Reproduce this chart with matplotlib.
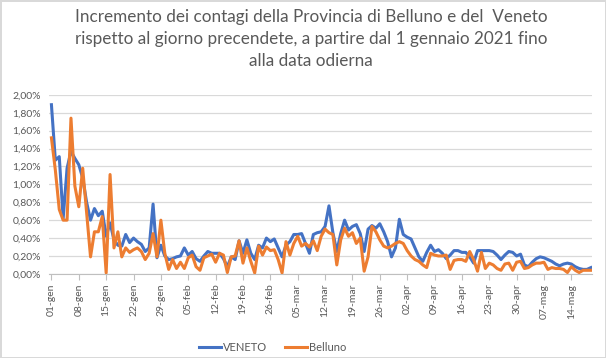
import matplotlib
matplotlib.use("Agg")
import matplotlib.pyplot as plt
from matplotlib.ticker import FuncFormatter, FixedLocator
from matplotlib.lines import Line2D

TITLE = ("Incremento dei contagi della Provincia di Belluno e del  Veneto\n"
         "rispetto al giorno precendete, a partire dal 1 gennaio 2021 fino\n"
         "alla data odierna")

# daily increment (%) from 01-gen-2021 to 18-mag-2021
veneto = [
    1.89, 1.27, 1.31, 0.62, 1.18, 1.37, 1.29, 1.22, 1.07, 0.80,
    0.60, 0.73, 0.65, 0.70, 0.42, 0.57, 0.38, 0.32, 0.31, 0.44,
    0.35, 0.40, 0.36, 0.33, 0.25, 0.29, 0.78, 0.18, 0.32, 0.20,
    0.16, 0.17, 0.19, 0.20, 0.29, 0.21, 0.25, 0.17, 0.14, 0.20,
    0.25, 0.23, 0.23, 0.23, 0.17, 0.08, 0.19, 0.16, 0.37, 0.23,
    0.38, 0.23, 0.16, 0.32, 0.29, 0.40, 0.36, 0.39, 0.29, 0.19,
    0.32, 0.36, 0.44, 0.44, 0.45, 0.34, 0.23, 0.44, 0.46, 0.47,
    0.53, 0.76, 0.46, 0.25, 0.45, 0.60, 0.49, 0.53, 0.55, 0.45,
    0.25, 0.50, 0.54, 0.51, 0.56, 0.47, 0.36, 0.19, 0.29, 0.61,
    0.44, 0.41, 0.39, 0.29, 0.19, 0.14, 0.24, 0.32, 0.25, 0.27,
    0.23, 0.17, 0.21, 0.26, 0.26, 0.24, 0.24, 0.19, 0.12, 0.26,
    0.26, 0.26, 0.26, 0.25, 0.21, 0.16, 0.21, 0.25, 0.24, 0.20,
    0.22, 0.10, 0.08, 0.13, 0.17, 0.19, 0.18, 0.16, 0.14, 0.11,
    0.09, 0.11, 0.12, 0.11, 0.08, 0.06, 0.05, 0.05, 0.07,
]
belluno = [
    1.52, 1.16, 0.72, 0.60, 0.60, 1.74, 0.98, 0.75, 1.18, 0.68,
    0.19, 0.47, 0.47, 0.64, 0.01, 1.11, 0.29, 0.47, 0.19, 0.29,
    0.24, 0.27, 0.29, 0.25, 0.16, 0.23, 0.45, 0.19, 0.60, 0.23,
    0.05, 0.16, 0.06, 0.13, 0.06, 0.18, 0.21, 0.08, 0.04, 0.18,
    0.20, 0.22, 0.13, 0.23, 0.21, 0.015, 0.19, 0.20, 0.37, 0.12,
    0.29, 0.14, 0.01, 0.31, 0.21, 0.30, 0.26, 0.27, 0.16, 0.01,
    0.36, 0.21, 0.34, 0.42, 0.31, 0.34, 0.30, 0.37, 0.26, 0.42,
    0.50, 0.46, 0.44, 0.10, 0.38, 0.51, 0.42, 0.46, 0.34, 0.40,
    0.03, 0.19, 0.53, 0.47, 0.38, 0.31, 0.29, 0.31, 0.34, 0.36,
    0.34, 0.26, 0.20, 0.16, 0.14, 0.10, 0.07, 0.23, 0.21, 0.20,
    0.20, 0.21, 0.05, 0.15, 0.16, 0.16, 0.14, 0.25, 0.16, 0.03,
    0.24, 0.06, 0.12, 0.10, 0.06, 0.04, 0.11, 0.12, 0.04, 0.13,
    0.14, 0.06, 0.07, 0.10, 0.12, 0.12, 0.13, 0.05, 0.07, 0.06,
    0.06, 0.05, 0.015, 0.08, 0.04, 0.015, 0.04, 0.04, 0.04,
]
tick_labels = ["01-gen", "08-gen", "15-gen", "22-gen", "29-gen", "05-feb",
               "12-feb", "19-feb", "26-feb", "05-mar", "12-mar", "19-mar",
               "26-mar", "02-apr", "09-apr", "16-apr", "23-apr", "30-apr",
               "07-mag", "14-mag"]

BLUE = "#4472C4"
ORANGE = "#ED7D31"
TXT = "#595959"

plt.rcParams['font.family'] = ['Lato', 'DejaVu Sans']

fig = plt.figure(figsize=(6.06, 3.58), dpi=100)
fig.patch.set_facecolor("white")
fig.patch.set_edgecolor("#D9D9D9")
fig.patch.set_linewidth(1.0)

ax = fig.add_axes([0.081, 0.235, 0.896, 0.5])
days = list(range(len(veneto)))
ax.plot(days, veneto, color=BLUE, lw=2.2, solid_joinstyle='round', label="VENETO")
ax.plot(days, belluno, color=ORANGE, lw=2.2, solid_joinstyle='round', label="Belluno")

ax.set_ylim(0, 2.0)
ax.set_xlim(-0.6, 138.3)
ax.set_yticks([i * 0.2 for i in range(11)])
ax.yaxis.set_major_formatter(FuncFormatter(lambda v, p: f"{v:.2f}%".replace(".", ",")))
ax.xaxis.set_major_locator(FixedLocator([i * 7 for i in range(len(tick_labels))]))
ax.set_xticklabels(tick_labels, rotation=90)

ax.grid(axis='y', color="#D9D9D9", lw=0.9)
ax.set_axisbelow(True)
for s in ("top", "right", "left"):
    ax.spines[s].set_visible(False)
ax.spines["bottom"].set_color("#BFBFBF")
ax.tick_params(axis='y', length=0, labelsize=7.5, labelcolor=TXT, pad=6)
ax.tick_params(axis='x', length=4, color="#BFBFBF", labelsize=7.5, labelcolor=TXT, pad=3)

fig.text(0.513, 0.975, TITLE, ha='center', va='top', fontsize=12.3,
         color=TXT, linespacing=1.45)

handles = [Line2D([], [], color=BLUE, lw=2.2), Line2D([], [], color=ORANGE, lw=2.2)]
fig.legend(handles, ["VENETO", "Belluno"], loc='center', bbox_to_anchor=(0.45, 0.03),
           ncol=2, frameon=False, fontsize=8, labelcolor=TXT, handlelength=2.0,
           handletextpad=0.2, columnspacing=1.6)

fig.savefig("out.png", dpi=100, facecolor=fig.get_facecolor(), edgecolor=fig.get_edgecolor())
